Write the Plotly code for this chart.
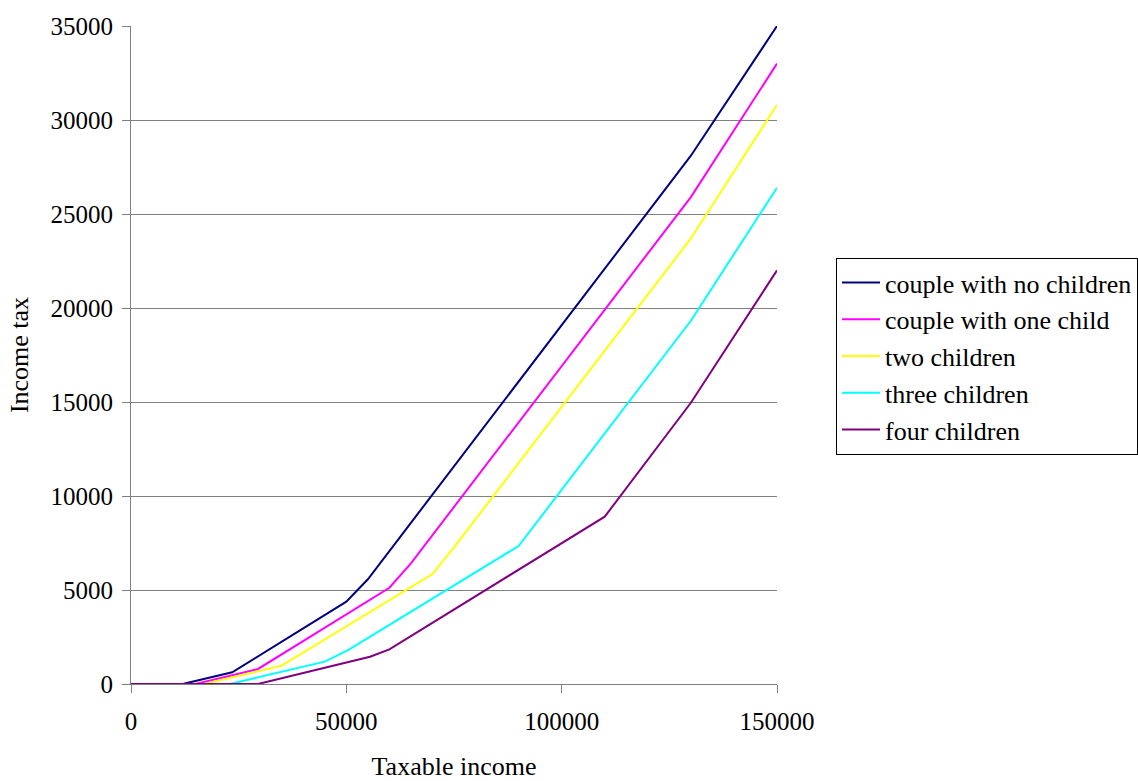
import plotly.graph_objects as go

series_names = ["couple with no children", "couple with one child", "two children",
                "three children", "four children"]
colors = ["#000080", "#FF00FF", "#FFFF00", "#00FFFF", "#800080"]

x_none = [0, 12000, 23500, 50000, 55000, 130000, 150000]
y_none = [0, 0, 620, 4380, 5570, 28100, 35000]

x_one = [0, 15000, 29500, 60000, 65000, 130000, 150000]
y_one = [0, 0, 800, 5120, 6420, 25900, 33000]

x_two = [0, 17000, 35000, 70000, 75000, 130000, 150000]
y_two = [0, 0, 975, 5850, 7270, 23700, 30800]

x_three = [0, 23000, 45000, 50500, 90000, 130000, 150000]
y_three = [0, 0, 1190, 1810, 7340, 19320, 26400]

x_four = [0, 29500, 55500, 60000, 110000, 130000, 150000]
y_four = [0, 0, 1450, 1845, 8900, 14960, 22000]

xs = [x_none, x_one, x_two, x_three, x_four]
ys = [y_none, y_one, y_two, y_three, y_four]

x_ticks = [0, 50000, 100000, 150000]
y_ticks = [0, 5000, 10000, 15000, 20000, 25000, 30000, 35000]

font_family = "Liberation Serif"

fig = go.Figure()
for name, c, x, y in zip(series_names, colors, xs, ys):
    fig.add_trace(go.Scatter(x=x, y=y, mode="lines", name=name,
                             line=dict(color=c, width=2)))

fig.update_layout(
    width=1138, height=781,
    margin=dict(l=131, r=361, t=26, b=97, pad=0, autoexpand=False),
    paper_bgcolor="white", plot_bgcolor="white",
    font=dict(family=font_family, size=25, color="black"),
    showlegend=True,
    legend=dict(xref="container", yref="container", x=836 / 1138, y=1 - 258 / 781,
                xanchor="left", yanchor="top",
                bordercolor="black", borderwidth=1, bgcolor="white",
                font=dict(family=font_family, size=26, color="black"),
                tracegroupgap=0, itemwidth=38),
)
fig.update_xaxes(
    range=[0, 150000], tickvals=x_ticks, ticktext=[str(v) for v in x_ticks],
    showgrid=False, zeroline=False, showline=True, linecolor="#808080", linewidth=1,
    ticks="outside", ticklen=8, tickcolor="#808080", tickwidth=1,
    ticklabelstandoff=7, automargin=False,
    tickfont=dict(size=25),
    title=dict(text="Taxable income", standoff=52, font=dict(size=26)),
)
fig.update_yaxes(
    range=[0, 35000], tickvals=y_ticks, ticktext=[str(v) for v in y_ticks],
    showgrid=True, gridcolor="#808080", gridwidth=1,
    zeroline=False, showline=True, linecolor="#808080", linewidth=1,
    ticks="outside", ticklen=8, tickcolor="#808080", tickwidth=1,
    ticklabelstandoff=4, automargin=False,
    tickfont=dict(size=25),
    title=dict(text="Income tax", standoff=14, font=dict(size=26)),
)

fig.write_html("out.html")
